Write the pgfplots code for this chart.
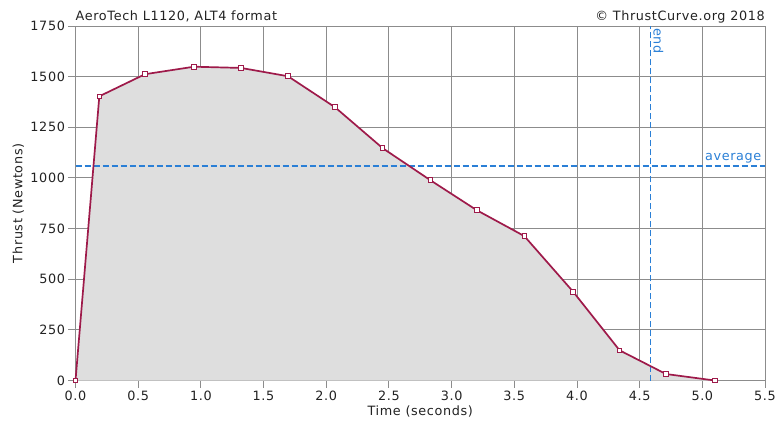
\documentclass[border=0pt]{standalone}
\usepackage{pgfplots}
\pgfplotsset{compat=1.18}
\usepackage{fontspec}
\setmainfont{DejaVu Sans}[LetterSpace=5]
\definecolor{curve}{HTML}{9E1A4A}
\definecolor{fillg}{HTML}{DEDEDE}
\definecolor{gridc}{HTML}{8C8C8C}
\definecolor{avgc}{HTML}{2A7FD6}
\definecolor{txt}{HTML}{222222}
\newcommand{\fs}{\fontsize{12.8}{14}\selectfont}
\begin{document}
\begin{tikzpicture}[x=1pt,y=1pt]
\begin{axis}[
  at={(0,0)}, anchor=south west,
  scale only axis, width=689.5pt, height=354.5pt,
  xmin=0, xmax=5.5, ymin=0, ymax=1750,
  xtick={0,0.5,...,5.5}, ytick={0,250,...,1750},
  xticklabel style={/pgf/number format/fixed,/pgf/number format/fixed zerofill,/pgf/number format/precision=1},
  yticklabel style={/pgf/number format/fixed,/pgf/number format/1000 sep={}},
  /pgf/number format/assume math mode=true,
  tick label style={font=\fs, text=txt},
  grid=major,
  major grid style={gridc, line width=0.9pt},
  axis line style={gridc, line width=0.9pt},
  tick style={gridc, line width=0.9pt},
  tick align=outside, major tick length=7pt,
  xtick pos=bottom, ytick pos=left,
  xlabel={Time (seconds)}, ylabel={Thrust (Newtons)},
  label style={font=\fs, text=txt},
  xlabel style={at={(axis description cs:0.5,0)}, anchor=center, yshift=-31pt},
  ylabel style={at={(axis description cs:-0.0827,0.5)}, anchor=center},
  clip=false,
]
\addplot[fill=fillg, draw=none] coordinates {
(0,0) (0.19,1403) (0.554,1512) (0.945,1549) (1.32,1543) (1.695,1502) (2.07,1349) (2.45,1147) (2.83,989) (3.20,841) (3.58,713) (3.97,438) (4.34,149) (4.71,32) (5.10,0)
} \closedcycle;
\addplot[color=avgc, line width=1.5pt, dash pattern=on 6pt off 3pt, mark=none] coordinates {(0,1060) (5.5,1060)};
\addplot[color=avgc, line width=1.1pt, dash pattern=on 6pt off 3pt, mark=none] coordinates {(4.59,0) (4.59,1750)};
\addplot[curve, line width=1.7pt, mark=square*, mark size=2.3pt, mark options={fill=white, draw=curve, line width=0.9pt, solid}] coordinates {
(0,0) (0.19,1403) (0.554,1512) (0.945,1549) (1.32,1543) (1.695,1502) (2.07,1349) (2.45,1147) (2.83,989) (3.20,841) (3.58,713) (3.97,438) (4.34,149) (4.71,32) (5.10,0)
};
\node[anchor=south east, text=avgc, font=\fs, inner sep=1pt] at (axis cs:5.48,1066) {average};
\node[rotate=-90, anchor=south west, text=avgc, font=\fs, inner sep=1pt] at (axis cs:4.60,1745) {end};
\end{axis}
\node[anchor=base west, text=txt, font=\fs, inner sep=0pt] at (0,360) {AeroTech L1120, ALT4 format};
\node[anchor=base east, text=txt, font=\fs, inner sep=0pt] at (689.5,360) {© ThrustCurve.org 2018};
\pgfresetboundingbox
\useasboundingbox (-75.5,-42.5) rectangle (700.5,380.5);
\end{tikzpicture}
\end{document}
